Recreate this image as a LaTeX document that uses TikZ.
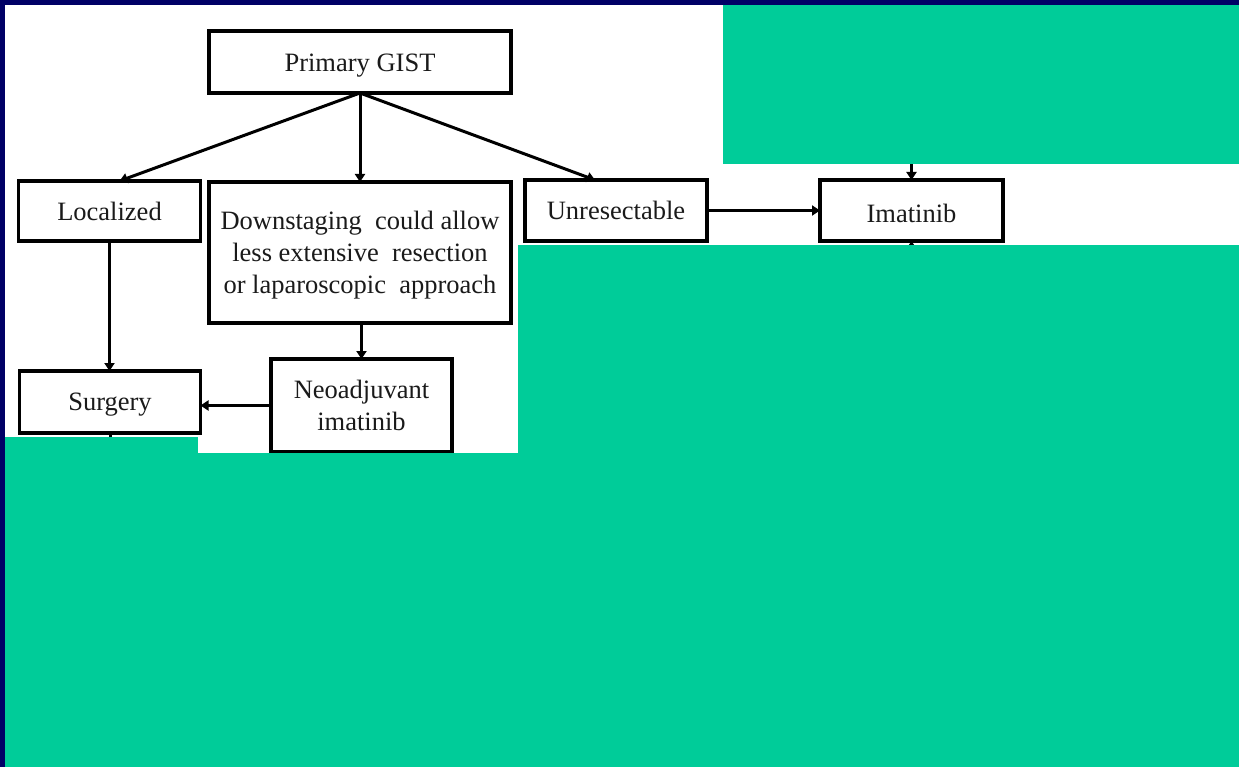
\documentclass[tikz,border=0pt]{standalone}
\usepackage{fontspec}
\setmainfont{Liberation Serif}
\usetikzlibrary{calc,arrows.meta}
\definecolor{navybg}{HTML}{000066}
\definecolor{greenov}{HTML}{00CC99}
\definecolor{inktxt}{HTML}{1A1A1A}
\newcommand{\lowertext}[2]{\raisebox{-#1}[\height][\depth]{#2}}
\begin{document}
\begin{tikzpicture}[x=1pt,y=-1pt,
  box/.style={draw=black,line width=3.6pt,inner sep=0pt,outer sep=0pt,
    align=center,text=inktxt,font=\fontsize{26.5}{32}\selectfont},
  conn/.style={line width=3pt,-{Triangle[width=10pt,length=8pt]}},
  plain/.style={line width=3pt}]
\useasboundingbox (0,0) rectangle (1239,767);
\fill[navybg] (0,0) rectangle (1239,767);
\fill[white] (5,5) rectangle (1239,767);
% nodes
\node[box,minimum width=302pt,minimum height=62pt] (gist) at (360,62) {\lowertext{4pt}{Primary GIST}};
\node[box,minimum width=182pt,minimum height=60pt] (loc) at (109.5,211) {Localized};
\node[box,minimum width=302pt,minimum height=141pt] (down) at (360,252.5)
  {\lowertext{3pt}{\begin{tabular}{@{}c@{}}Downstaging\ \ could allow\\less extensive\ \ resection\\or laparoscopic\ \ approach\end{tabular}}};
\node[box,minimum width=182pt,minimum height=61pt] (unres) at (616,210.5) {Unresectable};
\node[box,minimum width=183pt,minimum height=61pt] (ima) at (911.5,210.5) {\lowertext{3pt}{Imatinib}};
\node[box,minimum width=181pt,minimum height=62pt] (surg) at (110,402) {\lowertext{3pt}{Surgery}};
\node[box,minimum width=181pt,minimum height=93pt] (neo) at (361.5,405.5) {Neoadjuvant\\imatinib};
\coordinate (above) at (911.5,120);
\coordinate (below) at (911.5,300);
\coordinate (under) at (110,480);
% connectors
\draw[conn] (gist.south) -- ($(loc.north)+(10,0)$);
\draw[conn] (gist.south) -- (down.north);
\draw[conn] (gist.south) -- ($(unres.north)+(-21,0)$);
\draw[conn] (loc.south) -- (loc.south |- surg.north);
\draw[conn] (neo.north |- down.south) -- (neo.north);
\draw[conn] (neo.west) -- (neo.west -| surg.east);
\draw[conn] (unres.east) -- (ima.west);
\draw[conn] (above) -- (ima.north);
\draw[conn] (below) -- (ima.south);
\draw[plain] (surg.south) -- (under);
% overlays
\fill[greenov] (723,5) rectangle (1239,164);
\fill[greenov] (518,245) rectangle (1239,767);
\fill[greenov] (5,437) rectangle (198,767);
\fill[greenov] (198,453) rectangle (518,767);
\end{tikzpicture}
\end{document}
